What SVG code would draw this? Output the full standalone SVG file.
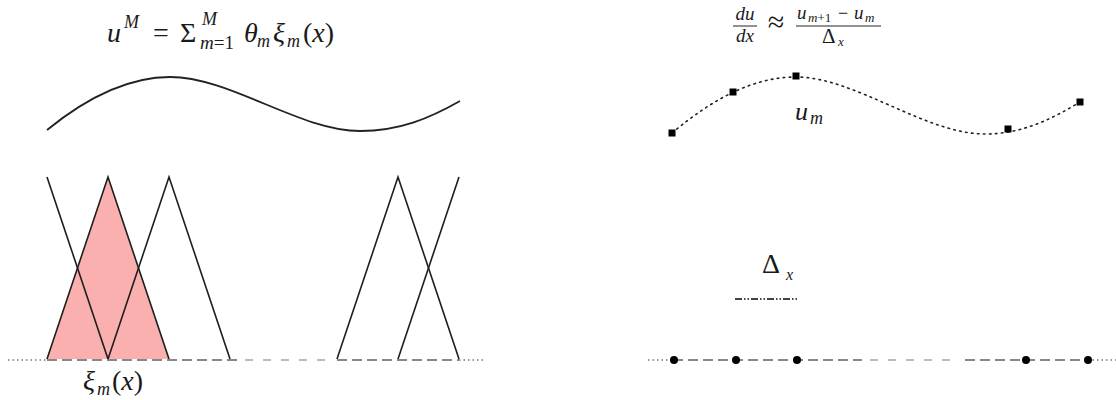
<svg xmlns="http://www.w3.org/2000/svg" width="1116" height="400" viewBox="0 0 1116 400">
<style>
.tri{fill:none;stroke:#1e1e1e;stroke-width:1.6;stroke-linejoin:miter}
.dotl{stroke:#777;stroke-width:1.3;stroke-dasharray:1.5 3;fill:none}
.dashd{stroke:#888;stroke-width:2;stroke-dasharray:10 5;fill:none}
.dashl{stroke:#bbb;stroke-width:2;stroke-dasharray:8 10;fill:none}
.node{fill:#000}
.tx{font-family:'Liberation Serif','Times New Roman',serif;fill:#1a1a1a}
</style>
<rect width="1116" height="400" fill="#fff"/>

<g id="formula-left" class="tx">
<text x="107" y="42" font-size="28" font-style="italic">u</text>
<text x="124" y="28" font-size="18" font-style="italic">M</text>
<text x="153" y="42" font-size="28">=</text>
<text x="180" y="42" font-size="28">Σ</text>
<text x="202" y="25" font-size="18" font-style="italic">M</text>
<text x="200" y="49" font-size="19"><tspan font-style="italic">m</tspan>=1</text>
<text x="244" y="42" font-size="28" font-style="italic">θ</text>
<text x="257" y="47" font-size="18" font-style="italic">m</text>
<text x="273" y="42" font-size="28" font-style="italic">ξ</text>
<text x="287" y="47" font-size="18" font-style="italic">m</text>
<text x="303" y="42" font-size="28">(<tspan font-style="italic">x</tspan>)</text>
</g>

<g id="curve-left">
<path d="M47,130 C90,95 130,77 170,77 C230,77 300,131 360,131 C400,131 430,118 460,101" fill="none" stroke="#222" stroke-width="1.8"/>
</g>

<g id="baseline-left">
<line x1="8" y1="360" x2="47" y2="360" class="dotl"/>
<line x1="47" y1="360" x2="240" y2="360" class="dashd"/>
<line x1="245" y1="360" x2="333" y2="360" class="dashl"/>
<line x1="337" y1="360" x2="459" y2="360" class="dashd"/>
<line x1="459" y1="360" x2="484" y2="360" class="dotl"/>
</g>

<g id="basis-functions">
<polygon id="basis-filled" points="47,359 108,177 169,359" fill="#fbb0b0" stroke="none"/>
<polyline class="tri" points="47,177 108,359"/>
<polyline class="tri" points="47,359 108,177 169,359"/>
<polyline class="tri" points="108,359 169,177 230,359"/>
<polyline class="tri" points="337,359 398,177 459,359"/>
<polyline class="tri" points="398,359 459,177"/>
</g>

<g id="label-xi" class="tx">
<text x="83" y="390" font-size="28" font-style="italic">ξ</text>
<text x="97" y="395" font-size="18" font-style="italic">m</text>
<text x="112" y="390" font-size="28">(<tspan font-style="italic">x</tspan>)</text>
</g>

<g id="formula-right" class="tx">
<text x="745" y="20" font-size="19" font-style="italic" text-anchor="middle">du</text>
<line x1="733" y1="26" x2="757" y2="26" stroke="#222" stroke-width="1"/>
<text x="745" y="42" font-size="19" font-style="italic" text-anchor="middle">dx</text>
<text x="776" y="32" font-size="30" text-anchor="middle">≈</text>
<text x="797" y="19" font-size="19" font-style="italic">u</text>
<text x="808" y="22" font-size="13"><tspan font-style="italic">m</tspan>+1</text>
<text x="838" y="19" font-size="18">−</text>
<text x="854" y="19" font-size="19" font-style="italic">u</text>
<text x="865" y="22" font-size="13" font-style="italic">m</text>
<line x1="796" y1="26" x2="881" y2="26" stroke="#222" stroke-width="1"/>
<text x="822" y="43" font-size="21">Δ</text>
<text x="838" y="46" font-size="13" font-style="italic">x</text>
</g>

<g id="curve-right">
<path d="M672,133 C715,97 755,77 796,77 C855,77 925,134 985,134 C1022,134 1052,119 1080,102" fill="none" stroke="#222" stroke-width="1.6" stroke-dasharray="1.6 4.4" stroke-linecap="round"/>
<rect class="node" x="668.5" y="129.5" width="7" height="7"/>
<rect class="node" x="729.5" y="88.5" width="7" height="7"/>
<rect class="node" x="792.5" y="72.5" width="7" height="7"/>
<rect class="node" x="1004.5" y="125.5" width="7" height="7"/>
<rect class="node" x="1076.5" y="98.5" width="7" height="7"/>
</g>

<g id="label-um" class="tx">
<text x="795" y="120" font-size="26" font-style="italic">u</text>
<text x="810" y="124" font-size="18" font-style="italic">m</text>
</g>

<g id="label-delta" class="tx">
<text x="762" y="273" font-size="28">Δ</text>
<text x="786" y="280" font-size="16" font-style="italic">x</text>
</g>
<g id="delta-line">
<line x1="735" y1="299" x2="797" y2="299" stroke="#444" stroke-width="2" stroke-dasharray="7 2 1.5 2 1.5 2"/>
</g>

<g id="grid-right">
<line x1="648" y1="360" x2="673" y2="360" class="dotl"/>
<line x1="673" y1="360" x2="862" y2="360" class="dashd"/>
<line x1="870" y1="360" x2="960" y2="360" class="dashl"/>
<line x1="965" y1="360" x2="1088" y2="360" class="dashd"/>
<line x1="1088" y1="360" x2="1116" y2="360" class="dotl"/>
<circle class="node" cx="674" cy="360" r="4"/>
<circle class="node" cx="736" cy="360" r="4"/>
<circle class="node" cx="797" cy="360" r="4"/>
<circle class="node" cx="1026" cy="360" r="4"/>
<circle class="node" cx="1088" cy="360" r="4"/>
</g>
</svg>
